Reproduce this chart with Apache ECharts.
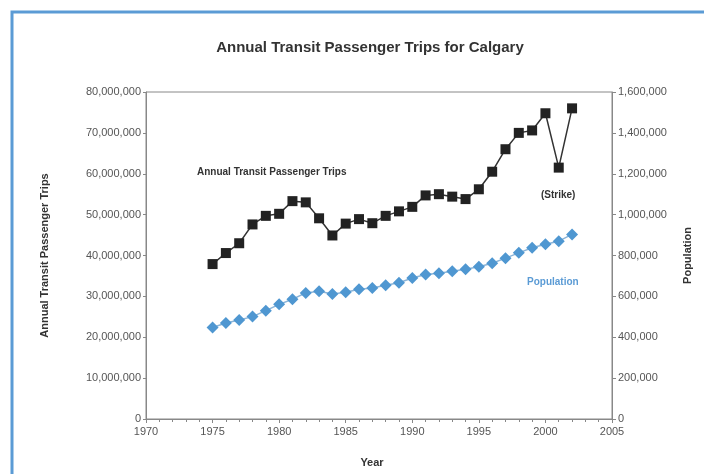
<!DOCTYPE html>
<html>
<head>
<meta charset="utf-8">
<script src="https://cdn.jsdelivr.net/npm/echarts@6/dist/echarts.min.js"></script>
<style>
  html, body { margin: 0; padding: 0; background: #fff; }
  #chart { width: 704px; height: 474px; }
</style>
</head>
<body>
<div id="chart"></div>
<script>
// data
const years = [1975, 1976, 1977, 1978, 1979, 1980, 1981, 1982, 1983, 1984,
  1985, 1986, 1987, 1988, 1989, 1990, 1991, 1992, 1993, 1994,
  1995, 1996, 1997, 1998, 1999, 2000, 2001, 2002];
const trips = [37.9, 40.6, 43.0, 47.6, 49.7, 50.2, 53.3, 53.0, 49.1, 44.9,
  47.8, 48.9, 47.9, 49.7, 50.8, 51.9, 54.7, 55.0, 54.4, 53.8,
  56.2, 60.5, 66.0, 70.0, 70.6, 74.8, 61.5, 76.0].map(v => v * 1e6);
const population = [448, 470, 484, 501, 530, 561, 586, 617, 625, 612,
  620, 635, 641, 654, 667, 690, 707, 713, 723, 733,
  745, 762, 787, 813, 838, 855, 870, 903].map(v => v * 1000);

const fmt = v => v.toLocaleString('en-US');
const font = 'Liberation Sans, Arial, sans-serif';

const chart = echarts.init(document.getElementById('chart'));

chart.setOption({
  animation: false,
  textStyle: { fontFamily: font },
  title: {
    text: 'Annual Transit Passenger Trips for Calgary',
    left: 365,
    textAlign: 'center',
    top: 35,
    textStyle: { fontSize: 15, fontWeight: 'bold', color: '#333', fontFamily: font }
  },
  graphic: [
    // blue frame of the original figure (cropped on right/bottom)
    { type: 'rect', shape: { x: 12, y: 12, width: 900, height: 700 },
      style: { fill: null, stroke: '#5b9bd5', lineWidth: 3 }, silent: true },
    { type: 'text', left: 197, top: 167,
      style: { text: 'Annual Transit Passenger Trips', fill: '#333', font: 'bold 10px ' + font } },
    { type: 'text', left: 541, top: 190,
      style: { text: '(Strike)', fill: '#333', font: 'bold 10px ' + font } },
    { type: 'text', left: 527, top: 277,
      style: { text: 'Population', fill: '#5b9bd5', font: 'bold 10px ' + font } }
  ],
  grid: { left: 146, right: 92, top: 92, bottom: 55, show: true, borderColor: '#888', borderWidth: 1 },
  xAxis: {
    type: 'value',
    min: 1970, max: 2005, interval: 5,
    name: 'Year',
    nameLocation: 'middle',
    nameGap: 38,
    nameTextStyle: { fontSize: 11, fontWeight: 'bold', color: '#333', padding: [0, 14, 0, 0] },
    axisLine: { lineStyle: { color: '#888' } },
    axisTick: { length: 4, lineStyle: { color: '#888' } },
    minorTick: { show: true, splitNumber: 5, length: 3, lineStyle: { color: '#888' } },
    splitLine: { show: false },
    axisLabel: { color: '#555', fontSize: 11, margin: 7, formatter: v => String(v) }
  },
  yAxis: [
    {
      type: 'value',
      min: 0, max: 80000000, interval: 10000000,
      name: 'Annual Transit Passenger Trips',
      nameLocation: 'middle',
      nameGap: 96,
      nameRotate: 90,
      nameTextStyle: { fontSize: 11, fontWeight: 'bold', color: '#333' },
      axisLine: { show: true, lineStyle: { color: '#888' } },
      axisTick: { show: true, length: 3, lineStyle: { color: '#888' } },
      splitLine: { show: false },
      axisLabel: { color: '#555', fontSize: 11, margin: 5, formatter: fmt }
    },
    {
      type: 'value',
      min: 0, max: 1600000, interval: 200000,
      position: 'right',
      name: 'Population',
      nameLocation: 'middle',
      nameGap: 70,
      nameRotate: 90,
      nameTextStyle: { fontSize: 11, fontWeight: 'bold', color: '#333' },
      axisLine: { show: true, lineStyle: { color: '#888' } },
      axisTick: { show: true, length: 4, lineStyle: { color: '#888' } },
      splitLine: { show: false },
      axisLabel: { color: '#555', fontSize: 11, margin: 6, formatter: fmt }
    }
  ],
  series: [
    {
      name: 'Annual Transit Passenger Trips',
      type: 'line',
      yAxisIndex: 0,
      data: years.map((y, i) => [y, trips[i]]),
      symbol: 'rect',
      symbolSize: 10,
      itemStyle: { color: '#222' },
      lineStyle: { color: '#333', width: 1.5 }
    },
    {
      name: 'Population',
      type: 'line',
      yAxisIndex: 1,
      data: years.map((y, i) => [y, population[i]]),
      symbol: 'diamond',
      symbolSize: 12,
      itemStyle: { color: '#4f97d1' },
      lineStyle: { color: '#8ab4d8', width: 1.5 }
    }
  ]
});
</script>
</body>
</html>
